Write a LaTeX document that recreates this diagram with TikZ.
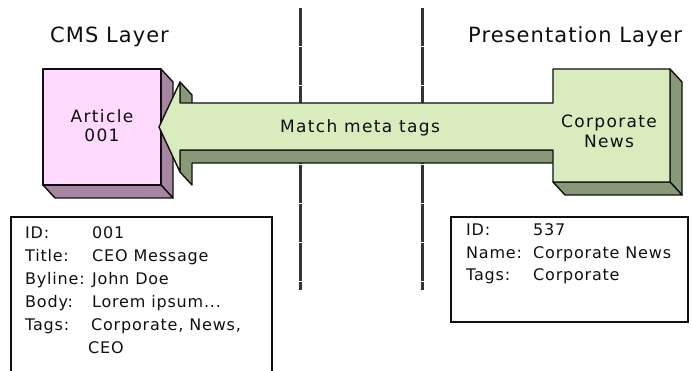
\documentclass[tikz,border=0pt]{standalone}
\usepackage{fontspec}
\newfontfamily\titlefont[LetterSpace=5]{DejaVu Sans}
\newfontfamily\boxfont[LetterSpace=8]{DejaVu Sans}
\newfontfamily\infofont[LetterSpace=5]{DejaVu Sans}
\definecolor{pinkfront}{RGB}{255,217,255}
\definecolor{pinkside}{RGB}{166,134,160}
\definecolor{greenfront}{RGB}{216,236,190}
\definecolor{greenside}{RGB}{136,153,119}
\definecolor{ink}{RGB}{15,15,15}
\tikzset{
  outline/.style={draw=ink, line width=1.4pt, line join=round},
  divider/.style={draw=ink!85, line width=3pt, dash pattern=on 38pt off 1.2pt},
  title/.style={anchor=base west, inner sep=0pt, text=ink, font=\titlefont\fontsize{21}{25}\selectfont},
  boxlabel/.style={anchor=base, inner sep=0pt, text=ink, font=\boxfont\fontsize{17}{20}\selectfont},
  info/.style={anchor=base west, inner sep=0pt, text=ink, font=\infofont\fontsize{16}{19}\selectfont},
  infobox/.style={draw=ink, line width=1.4pt}
}
\begin{document}
\begin{tikzpicture}[x=1pt,y=-1pt]
\useasboundingbox (0,0) rectangle (692,371);
% dividers
\coordinate (d1t) at (300,8); \coordinate (d1b) at (300,290);
\coordinate (d2t) at (422,8); \coordinate (d2b) at (422,290);
\draw[divider] (d1t) -- (d1b);
\draw[divider] (d2t) -- (d2b);
% titles
\node[title] (cms) at (50,43) {CMS Layer};
\node[title] (pres) at (468,43) {Presentation Layer};
% pink box
\filldraw[outline, fill=pinkside] (161,69) -- (173,82) -- (173,198) -- (161,185) -- cycle;
\filldraw[outline, fill=pinkside] (43,185) -- (161,185) -- (173,198) -- (55,198) -- cycle;
\filldraw[outline, fill=pinkfront] (43,69) rectangle (161,185);
% arrow + green box side faces
\filldraw[outline, fill=greenside] (180,82) -- (192,95) -- (192,116) -- (180,103) -- cycle;
\filldraw[outline, fill=greenside] (180,150) -- (565,150) -- (565,163) -- (192,163) -- (192,185) -- (180,172) -- cycle;
\filldraw[outline, fill=greenside] (670,69) -- (682,82) -- (682,195) -- (670,182) -- cycle;
\filldraw[outline, fill=greenside] (553,182) -- (670,182) -- (682,195) -- (565,195) -- cycle;
% arrow + green box front face
\filldraw[outline, fill=greenfront] (159,127) -- (180,82) -- (180,103) -- (553,103) -- (553,69) -- (670,69)
  -- (670,182) -- (553,182) -- (553,150) -- (180,150) -- (180,172) -- cycle;
% box labels
\node[boxlabel] (art1) at (102,123) {Article};
\node[boxlabel] (art2) at (102,142) {001};
\node[boxlabel] (match) at (360,133) {Match meta tags};
\node[boxlabel] (corp1) at (609,128) {Corporate};
\node[boxlabel] (corp2) at (609,148) {News};
% info boxes
\coordinate (lb1) at (11,376); \coordinate (lb2) at (11,217);
\coordinate (lb3) at (272,217); \coordinate (lb4) at (272,376);
\draw[infobox] (lb1) -- (lb2) -- (lb3) -- (lb4);
\coordinate (rb1) at (451,217); \coordinate (rb2) at (688,322);
\draw[infobox] (rb1) rectangle (rb2);
% left info text
\node[info] (l1a) at (25,238) {ID:};        \node[info] (l1b) at (92,238) {001};
\node[info] (l2a) at (25,261) {Title:};     \node[info] (l2b) at (92,261) {CEO Message};
\node[info] (l3a) at (25,284) {Byline:};    \node[info] (l3b) at (92,284) {John Doe};
\node[info] (l4a) at (25,307) {Body:};      \node[info] (l4b) at (92,307) {Lorem ipsum...};
\node[info] (l5a) at (25,330) {Tags:};      \node[info] (l5b) at (91,330) {Corporate, News,};
\node[info] (l6b) at (88,353) {CEO};
% right info text
\node[info] (r1a) at (466,235) {ID:};       \node[info] (r1b) at (533,235) {537};
\node[info] (r2a) at (466,258) {Name:};     \node[info] (r2b) at (533,258) {Corporate News};
\node[info] (r3a) at (466,280) {Tags:};     \node[info] (r3b) at (533,280) {Corporate};
\end{tikzpicture}
\end{document}
